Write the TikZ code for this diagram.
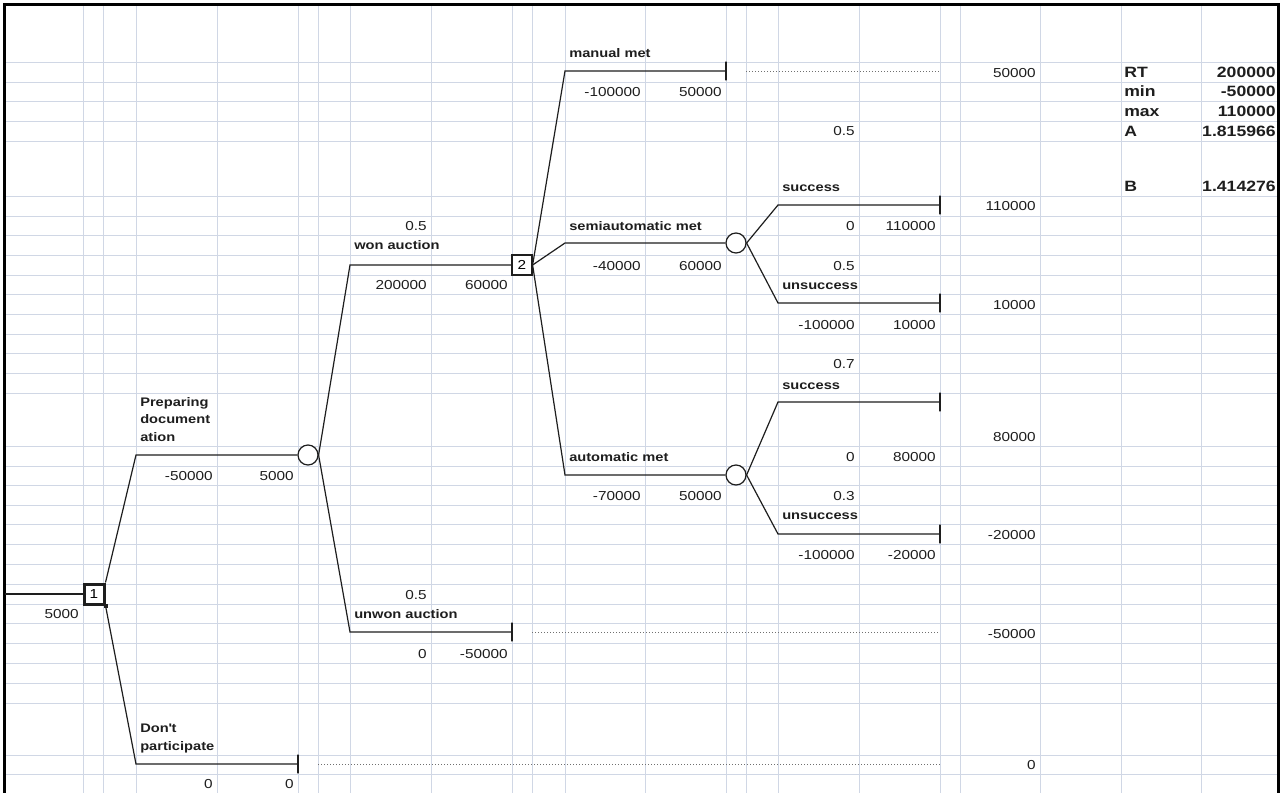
\documentclass[tikz,border=0pt]{standalone}
\usepackage{fontspec}
\setmainfont{Liberation Sans}[FakeStretch=1.18]
\usepackage{tikz}
\usetikzlibrary{positioning}
\definecolor{xlgrid}{HTML}{D0D7E5}
\definecolor{xlink}{HTML}{1E1E1E}
\definecolor{xldot}{HTML}{707070}

\tikzset{
  gridline/.style={xlgrid, line width=0.75pt},
  sheetframe/.style={black, line width=2.25pt},
  branch/.style={xlink, line width=0.9pt},
  guide/.style={xldot, line width=0.75pt, dash pattern=on 0.75pt off 1.5pt},
  num/.style={font=\fontsize{9.75}{11}\selectfont, text=xlink, anchor=base east, inner sep=0pt},
  lbl/.style={font=\fontsize{9.3}{13}\selectfont\bfseries, text=xlink, anchor=base west, inner sep=0pt, align=left},
  tbl/.style={font=\fontsize{11.2}{12}\selectfont\bfseries, text=xlink, inner sep=0pt},
  decbox/.style={draw=xlink, line width=0.9pt, fill=white, minimum size=15pt, inner sep=0pt,
    font=\fontsize{9.75}{11}\selectfont},
  chancenode/.style={draw=xlink, line width=0.9pt, circle, fill=white, minimum size=15pt, inner sep=0pt},
  endmark/.style={draw=xlink, line width=0.9pt, rectangle, minimum width=0pt, minimum height=14pt, inner sep=0pt},
}

\begin{document}
\begin{tikzpicture}[x=0.75pt, y=-0.75pt]

%% Sheet background and grid
\fill[white] (0,0) rectangle (1286,793);
\useasboundingbox (0,0) rectangle (1286,793);
\foreach \gx in {83,103,136,217,298,318,350,431,512,532,565,645,726,746,778,859,940,960,1040,1121,1201}
  \draw[gridline] (\gx,5) -- (\gx,793);
\foreach \gy in {62,82,101,121,141,196,216,235,255,275,294,314,334,353,373,393,446,466,485,505,524,544,564,584,604,623,643,663,683,703,755,774}
  \draw[gridline] (5,\gy) -- (1278,\gy);
\draw[sheetframe] (4.5,793) -- (4.5,4.5) -- (1278,4.5) -- (1278,793);

%% ── Tree nodes ──────────────────────────────────────────────────────────
\coordinate (root) at (5,594);
\node[decbox, line width=2.25pt, minimum size=15pt] (d1) at (94,594) {1};
\node[fill=xlink, minimum size=3pt, inner sep=0pt] (d1h) at (d1.south east) {};
\node[chancenode] (c1) at (308,455) {};
\node[decbox] (d2) at (522,265) {2};
\node[chancenode] (c2) at (736,243) {};
\node[chancenode] (c3) at (736,475) {};

%% bends
\coordinate (bPrep) at (136,455);
\coordinate (bSkip) at (136,764);
\coordinate (bWon) at (350,265);
\coordinate (bLost) at (350,632);
\coordinate (bMan) at (565,71);
\coordinate (bSemi) at (565,243);
\coordinate (bAuto) at (565,475);
\coordinate (bSemiS) at (778,205);
\coordinate (bSemiU) at (778,303);
\coordinate (bAutoS) at (778,402);
\coordinate (bAutoU) at (778,534);

%% end marks
\node[endmark] (eSkip) at (298,764) {};
\node[endmark] (eLost) at (512,632) {};
\node[endmark] (eMan) at (726,71) {};
\node[endmark] (eSemiS) at (940,205) {};
\node[endmark] (eSemiU) at (940,303) {};
\node[endmark] (eAutoS) at (940,402) {};
\node[endmark] (eAutoU) at (940,534) {};
\coordinate (gSkip) at (940,764);
\coordinate (gLost) at (940,632);
\coordinate (gMan) at (940,71);

%% branches
\draw[branch] (root) -- (d1.west);
\draw[branch] (d1.north east) -- (bPrep) -- (c1.west);
\draw[branch] (d1.south east) -- (bSkip) -- (eSkip);
\draw[branch] (c1.east) -- (bWon) -- (d2.west);
\draw[branch] (c1.east) -- (bLost) -- (eLost);
\draw[branch] (d2.east) -- (bMan) -- (eMan);
\draw[branch] (d2.east) -- (bSemi) -- (c2.west);
\draw[branch] (d2.east) -- (bAuto) -- (c3.west);
\draw[branch] (c2.east) -- (bSemiS) -- (eSemiS);
\draw[branch] (c2.east) -- (bSemiU) -- (eSemiU);
\draw[branch] (c3.east) -- (bAutoS) -- (eAutoS);
\draw[branch] (c3.east) -- (bAutoU) -- (eAutoU);
\draw[guide] ([xshift=15pt]eSkip.center) -- (gSkip);
\draw[guide] ([xshift=15pt]eLost.center) -- (gLost);
\draw[guide] ([xshift=15pt]eMan.center) -- (gMan);

%% ── Labels and values ───────────────────────────────────────────────────
\node[num] (nRoot) at (79,618) {5000};

% multi-line labels sit on their last baseline
\node[lbl] (tPrep) at (140,441) {Preparing\\document\\ation};
\node[num] (nPrepCost) at (213,480) {-50000};
\node[num] (nPrepEV) at (294,480) {5000};

\node[lbl] (tSkip) at (140,750) {Don\textquotesingle t\\participate};
\node[num] (nSkipCost) at (213,788) {0};
\node[num] (nSkipEV) at (294,788) {0};
\node[num] (nSkipEnd) at (1036,769) {0};

\node[num] (pWon) at (427,230) {0.5};
\node[lbl] (tWon) at (354,249) {won auction};
\node[num] (nWonCost) at (427,289) {200000};
\node[num] (nWonEV) at (508,289) {60000};

\node[num] (pLost) at (427,599) {0.5};
\node[lbl] (tLost) at (354,618) {unwon auction};
\node[num] (nLostCost) at (427,658) {0};
\node[num] (nLostEV) at (508,658) {-50000};
\node[num] (nLostEnd) at (1036,638) {-50000};

\node[lbl] (tMan) at (569,57) {manual met};
\node[num] (nManCost) at (641,96) {-100000};
\node[num] (nManEV) at (722,96) {50000};
\node[num] (nManEnd) at (1036,77) {50000};

\node[lbl] (tSemi) at (569,230) {semiautomatic met};
\node[num] (nSemiCost) at (641,270) {-40000};
\node[num] (nSemiEV) at (722,270) {60000};
\node[num] (pSemiS) at (855,135) {0.5};
\node[lbl] (tSemiS) at (782,191) {success};
\node[num] (nSemiSCost) at (855,230) {0};
\node[num] (nSemiSEV) at (936,230) {110000};
\node[num] (nSemiSEnd) at (1036,210) {110000};
\node[num] (pSemiU) at (855,270) {0.5};
\node[lbl] (tSemiU) at (782,289) {unsuccess};
\node[num] (nSemiUCost) at (855,329) {-100000};
\node[num] (nSemiUEV) at (936,329) {10000};
\node[num] (nSemiUEnd) at (1036,309) {10000};

\node[lbl] (tAuto) at (569,461) {automatic met};
\node[num] (nAutoCost) at (641,500) {-70000};
\node[num] (nAutoEV) at (722,500) {50000};
\node[num] (pAutoS) at (855,368) {0.7};
\node[lbl] (tAutoS) at (782,389) {success};
\node[num] (nAutoSCost) at (855,461) {0};
\node[num] (nAutoSEV) at (936,461) {80000};
\node[num] (nAutoSEnd) at (1036,441) {80000};
\node[num] (pAutoU) at (855,500) {0.3};
\node[lbl] (tAutoU) at (782,519) {unsuccess};
\node[num] (nAutoUCost) at (855,559) {-100000};
\node[num] (nAutoUEV) at (936,559) {-20000};
\node[num] (nAutoUEnd) at (1036,539) {-20000};

%% ── Parameters ──────────────────────────────────────────────────────────
\node[tbl, anchor=base west] (kRT) at (1124,77) {RT};
\node[tbl, anchor=base east] (vRT) at (1276,77) {200000};
\node[tbl, anchor=base west] (kMin) at (1124,96) {min};
\node[tbl, anchor=base east] (vMin) at (1276,96) {-50000};
\node[tbl, anchor=base west] (kMax) at (1124,116) {max};
\node[tbl, anchor=base east] (vMax) at (1276,116) {110000};
\node[tbl, anchor=base west] (kA) at (1124,136) {A};
\node[tbl, anchor=base east] (vA) at (1276,136) {1.815966};
\node[tbl, anchor=base west] (kB) at (1124,191) {B};
\node[tbl, anchor=base east] (vB) at (1276,191) {1.414276};

\end{tikzpicture}
\end{document}
